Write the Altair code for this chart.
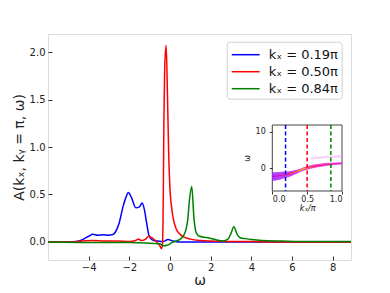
import altair as alt
import pandas as pd

# ---------------- data ----------------
labels = ["kₓ = 0.19π", "kₓ = 0.50π", "kₓ = 0.84π"]
colors = ["#0000ff", "#ff0000", "#008000"]

w_blue = [-6.0, -5.0, -4.6, -4.3, -4.0, -3.8, -3.55, -3.3, -3.05, -2.85, -2.7, -2.5, -2.3, -2.15,
          -2.05, -1.9, -1.68, -1.5, -1.37, -1.25, -1.15, -1.05, -0.95, -0.8, -0.6, -0.35, -0.1,
          0.15, 0.4, 1.0, 2.0, 4.0, 6.0, 8.9]
a_blue = [0.0, 0.0, 0.005, 0.025, 0.06, 0.08, 0.07, 0.075, 0.07, 0.075, 0.1, 0.2, 0.38, 0.48,
          0.52, 0.47, 0.36, 0.37, 0.41, 0.33, 0.2, 0.08, 0.035, 0.015, 0.01, 0.005, 0.025,
          0.01, 0.0, 0.0, 0.0, 0.0, 0.0, 0.0]

w_red = [-6.0, -5.0, -4.3, -3.8, -3.2, -2.6, -2.0, -1.7, -1.55, -1.4, -1.2, -1.05, -0.9, -0.7,
         -0.5, -0.43, -0.37, -0.33, -0.3, -0.26, -0.19, -0.13, -0.07, 0.0, 0.07, 0.14, 0.3, 0.5,
         0.7, 1.0, 1.5, 2.0, 3.0, 4.0, 5.0, 6.5, 8.9]
a_red = [0.0, 0.0, 0.01, 0.015, 0.01, 0.01, 0.005, 0.015, 0.03, 0.015, 0.03, 0.06, 0.045, 0.01,
         -0.04, -0.07, -0.03, 0.5, 1.3, 1.85, 2.07, 1.6, 0.97, 0.55, 0.38, 0.27, 0.14, 0.08,
         0.05, 0.03, 0.015, 0.01, 0.005, 0.005, 0.0, 0.0, 0.0]

w_green = [-6.0, -4.0, -2.0, -1.2, -0.8, -0.5, -0.3, -0.15, 0.0, 0.15, 0.3, 0.5, 0.7, 0.87, 0.96,
           1.07, 1.17, 1.29, 1.45, 1.7, 1.95, 2.3, 2.6, 2.85, 3.0, 3.14, 3.3, 3.45, 3.7, 4.0,
           4.5, 5.5, 7.0, 8.9]
a_green = [0.0, -0.005, -0.005, -0.01, -0.015, -0.02, -0.04, -0.035, -0.02, 0.0, 0.01, 0.03,
           0.08, 0.23, 0.45, 0.585, 0.27, 0.095, 0.06, 0.05, 0.04, 0.02, 0.01, 0.03, 0.09, 0.16,
           0.08, 0.045, 0.035, 0.025, 0.015, 0.01, 0.005, 0.005]

# inset: spectral band of the dispersion (kx/pi vs omega)
kx_band = [0.0, 0.1, 0.2, 0.3, 0.4, 0.5, 0.6, 0.7, 0.8, 0.9, 1.0]
lo_band = [-3.5, -3.1, -2.6, -1.9, -1.0, -0.4, 0.1, 0.4, 0.7, 0.9, 1.0]
hi_band = [-1.1, -1.0, -0.9, -0.6, -0.1, 0.6, 1.0, 1.3, 1.5, 1.6, 1.7]
mid_band = [-2.3, -2.0, -1.7, -1.2, -0.5, 0.1, 0.5, 0.8, 1.05, 1.2, 1.3]
kx_upper = [0.55, 0.7, 0.85, 1.0]
lo_upper = [2.4, 2.6, 2.8, 2.9]
hi_upper = [3.0, 3.3, 3.5, 3.6]
kx_cuts = [0.19, 0.50, 0.84]

# ---------------- tables ----------------
rows = []
for lab, ws, As in zip(labels, [w_blue, w_red, w_green], [a_blue, a_red, a_green]):
    for w, a in zip(ws, As):
        rows.append({"series": lab, "omega": w, "A": a})
df = pd.DataFrame(rows)
band = pd.DataFrame({"kx": kx_band, "lo": lo_band, "hi": hi_band, "mid": mid_band})
upper = pd.DataFrame({"kx": kx_upper, "lo": lo_upper, "hi": hi_upper})
cuts = pd.DataFrame({"kx": kx_cuts, "series": labels})
frame = pd.DataFrame({"x0": [0.0], "x1": [1.0], "y0": [-6.2], "y1": [11.8]})

FONT = "DejaVu Sans"

# ---------------- main plot ----------------
main = alt.Chart(df).mark_line(strokeWidth=1.5, interpolate="monotone", clip=True).encode(
    x=alt.X("omega:Q",
            scale=alt.Scale(domain=[-6.0, 8.9], nice=False, zero=False),
            axis=alt.Axis(values=[-4, -2, 0, 2, 4, 6, 8], title="ω", offset=-4, tickSize=4,
                          domain=False, grid=False, labelPadding=2, titlePadding=1,
                          labelFontSize=10, titleFontSize=14, titleFontWeight="normal",
                          labelFont=FONT, titleFont=FONT, tickColor="#333", labelColor="#222",
                          titleColor="#222")),
    y=alt.Y("A:Q",
            scale=alt.Scale(domain=[-0.19, 2.19], nice=False, zero=False),
            axis=alt.Axis(values=[0, 0.5, 1.0, 1.5, 2.0], format=".1f",
                          title="A(kₓ, kᵧ = π, ω)", offset=-4, tickSize=4, domain=False,
                          grid=False, labelPadding=3, titlePadding=3, labelFontSize=10,
                          titleFontSize=14, titleFontWeight="normal", labelFont=FONT,
                          titleFont=FONT, tickColor="#333", labelColor="#222",
                          titleColor="#222")),
    color=alt.Color("series:N", scale=alt.Scale(domain=labels, range=colors),
                    legend=alt.Legend(title=None, orient="none", legendX=178.7, legendY=7.7,
                                      symbolType="M-1.51,0H1.51", symbolSize=342,
                                      symbolStrokeWidth=1.5, symbolOffset=6, labelOffset=13,
                                      labelFontSize=13, labelFont=FONT, labelColor="#111",
                                      padding=3, rowPadding=0, strokeColor="#d0d0d0",
                                      fillColor="rgba(255,255,255,0.85)", cornerRadius=3,
                                      labelLimit=200)),
)

# ---------------- inset ----------------
ix = alt.Scale(domain=[0.0, 1.0], range=[224.3, 294.0], nice=False, zero=False)
iy = alt.Scale(domain=[-6.2, 11.8], range=[157.0, 91.0], nice=False, zero=False)

frame_layer = alt.Chart(frame).mark_rect(fill="white", stroke="#444", strokeWidth=1).encode(
    x=alt.X("x0:Q", scale=ix,
            axis=alt.Axis(orient="bottom", offset=-69, values=[0, 0.5, 1.0], format=".1f",
                          title="kₓ/π", tickSize=3, domain=False, grid=False, labelPadding=1,
                          titlePadding=1, labelFontSize=8, titleFontSize=8,
                          titleFontWeight="normal", titleFontStyle="italic", labelFont=FONT,
                          titleFont=FONT, zindex=1, tickColor="#333", labelColor="#222",
                          titleColor="#222")),
    x2="x1:Q",
    y=alt.Y("y0:Q", scale=iy,
            axis=alt.Axis(orient="left", offset=-224.3, values=[0, 10], title="ω",
                          tickSize=3, domain=False, grid=False, labelPadding=4,
                          titlePadding=4, labelFontSize=8, titleFontSize=8,
                          titleFontWeight="normal", labelFont=FONT, titleFont=FONT,
                          zindex=1, tickColor="#333", labelColor="#222", titleColor="#222")),
    y2="y1:Q",
)

upper_layer = alt.Chart(upper).mark_area(interpolate="monotone", color="#e8a8ee",
                                         opacity=0.45).encode(
    x=alt.X("kx:Q", scale=ix), y=alt.Y("lo:Q", scale=iy), y2="hi:Q")

band_layer = alt.Chart(band).mark_area(
    interpolate="monotone", opacity=0.85,
    color=alt.Gradient(gradient="linear", x1=0, x2=1, y1=0, y2=0,
                       stops=[alt.GradientStop(offset=0, color="#a01eff"),
                              alt.GradientStop(offset=0.35, color="#c81ee6"),
                              alt.GradientStop(offset=0.6, color="#e628c8"),
                              alt.GradientStop(offset=1, color="#f050e6")])).encode(
    x=alt.X("kx:Q", scale=ix), y=alt.Y("lo:Q", scale=iy), y2="hi:Q")

mid_layer = alt.Chart(band).mark_line(
    interpolate="monotone", strokeWidth=1.2,
    color=alt.Gradient(gradient="linear", x1=0, x2=1, y1=0, y2=0,
                       stops=[alt.GradientStop(offset=0, color="#c000ff"),
                              alt.GradientStop(offset=0.25, color="#ff2050"),
                              alt.GradientStop(offset=0.45, color="#ffb000"),
                              alt.GradientStop(offset=0.6, color="#ff2060"),
                              alt.GradientStop(offset=1, color="#e020d0")])).encode(
    x=alt.X("kx:Q", scale=ix), y=alt.Y("mid:Q", scale=iy))

cut_layer = alt.Chart(cuts).mark_rule(strokeWidth=1.5, strokeDash=[4, 2.5]).encode(
    x=alt.X("kx:Q", scale=ix),
    y=alt.value(91), y2=alt.value(157),
    color=alt.Color("series:N", scale=alt.Scale(domain=labels, range=colors), legend=None),
)

inset = alt.layer(frame_layer, upper_layer, band_layer, mid_layer, cut_layer)

chart = alt.layer(main, inset).resolve_scale(
    x="independent", y="independent", color="independent"
).properties(
    width=303, height=226,
    autosize=alt.AutoSizeParams(type="none"),
    padding={"left": 40, "top": 26, "right": 31, "bottom": 31},
).configure_view(stroke="#808080", strokeWidth=1.5).configure(background="white")

chart.save("out.html", embed_options={"renderer": "svg", "actions": False})
